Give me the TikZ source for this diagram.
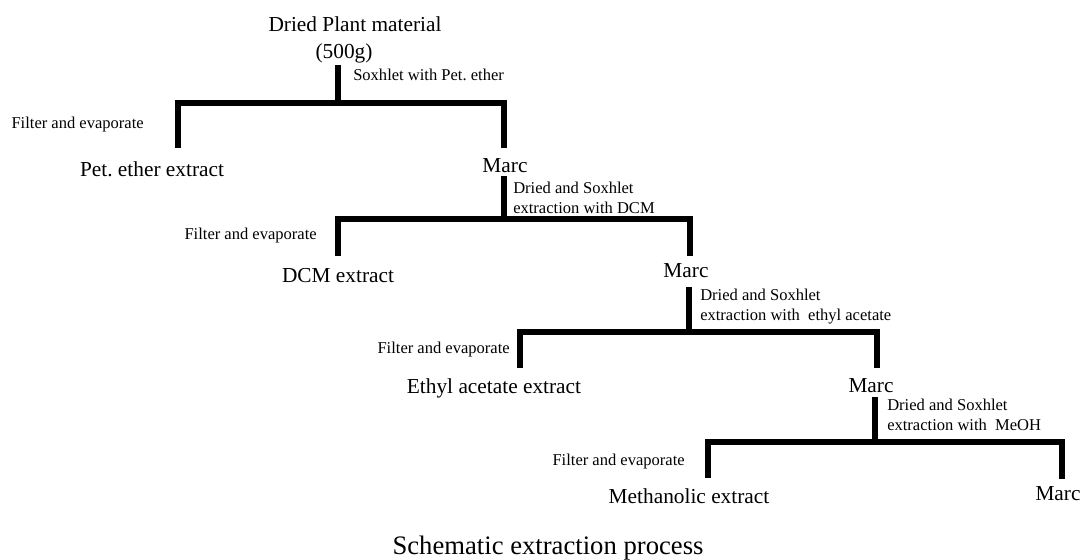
\documentclass[tikz,border=0pt]{standalone}
\usepackage{fontspec}
\setmainfont{Liberation Serif}
\frenchspacing
\begin{document}
\begin{tikzpicture}[x=0.75pt, y=-0.75pt,
  extract/.style={anchor=base, inner sep=0pt, font=\fontsize{16}{19}\selectfont},
  note/.style={inner sep=0pt, align=left, font=\fontsize{12.4}{15}\selectfont},
  branch/.style={line width=4.6pt, line join=miter}]
  \useasboundingbox (0,0) rectangle (1083,560);
  % plant material
  \node[extract] (plant) at (355,32) {Dried Plant material};
  \node[extract] (plantmass) at (344,59) {(500g)};
  % first extraction
  \node[note, anchor=base west] (sox1) at (353,81) {Soxhlet with Pet. ether};
  \node[note, anchor=base east] (filt1) at (144,128) {Filter and evaporate};
  \node[extract] (pet) at (152,176) {Pet. ether extract};
  \node[extract] (marc1) at (505,172) {Marc};
  \coordinate (top1) at (338,65); \coordinate (fork1) at (338,103);
  \coordinate (left1) at (178,148); \coordinate (right1) at (504,148);
  \draw[branch] (top1) -- (fork1);
  \draw[branch] (left1) |- (fork1) -| (right1);
  % second extraction
  \node[note, anchor=north west] (sox2) at (513,182) {Dried and Soxhlet\\extraction with DCM};
  \node[note, anchor=base east] (filt2) at (317,239) {Filter and evaporate};
  \node[extract] (dcm) at (338,282) {DCM extract};
  \node[extract] (marc2) at (686,277) {Marc};
  \coordinate (top2) at (504,176); \coordinate (fork2) at (504,219);
  \coordinate (left2) at (338,256); \coordinate (right2) at (690,256);
  \draw[branch] (top2) -- (fork2);
  \draw[branch] (left2) |- (fork2) -| (right2);
  % third extraction
  \node[note, anchor=north west] (sox3) at (700,289) {Dried and Soxhlet\\extraction with~ ethyl acetate};
  \node[note, anchor=base east] (filt3) at (510,353) {Filter and evaporate};
  \node[extract] (ethyl) at (494,393) {Ethyl acetate extract};
  \node[extract] (marc3) at (871,392) {Marc};
  \coordinate (top3) at (689,287); \coordinate (fork3) at (689,332);
  \coordinate (left3) at (520,368); \coordinate (right3) at (877,368);
  \draw[branch] (top3) -- (fork3);
  \draw[branch] (left3) |- (fork3) -| (right3);
  % fourth extraction
  \node[note, anchor=north west] (sox4) at (887,399) {Dried and Soxhlet\\extraction with~ MeOH};
  \node[note, anchor=base east] (filt4) at (685,465) {Filter and evaporate};
  \node[extract] (meoh) at (689,503) {Methanolic extract};
  \node[extract] (marc4) at (1058,500) {Marc};
  \coordinate (top4) at (875,397); \coordinate (fork4) at (875,442);
  \coordinate (left4) at (708,478); \coordinate (right4) at (1062,479);
  \draw[branch] (top4) -- (fork4);
  \draw[branch] (left4) |- (fork4) -| (right4);
  % caption
  \node[anchor=base, inner sep=0pt, font=\fontsize{20}{24}\selectfont] (caption) at (548,554) {Schematic extraction process};
\end{tikzpicture}
\end{document}
